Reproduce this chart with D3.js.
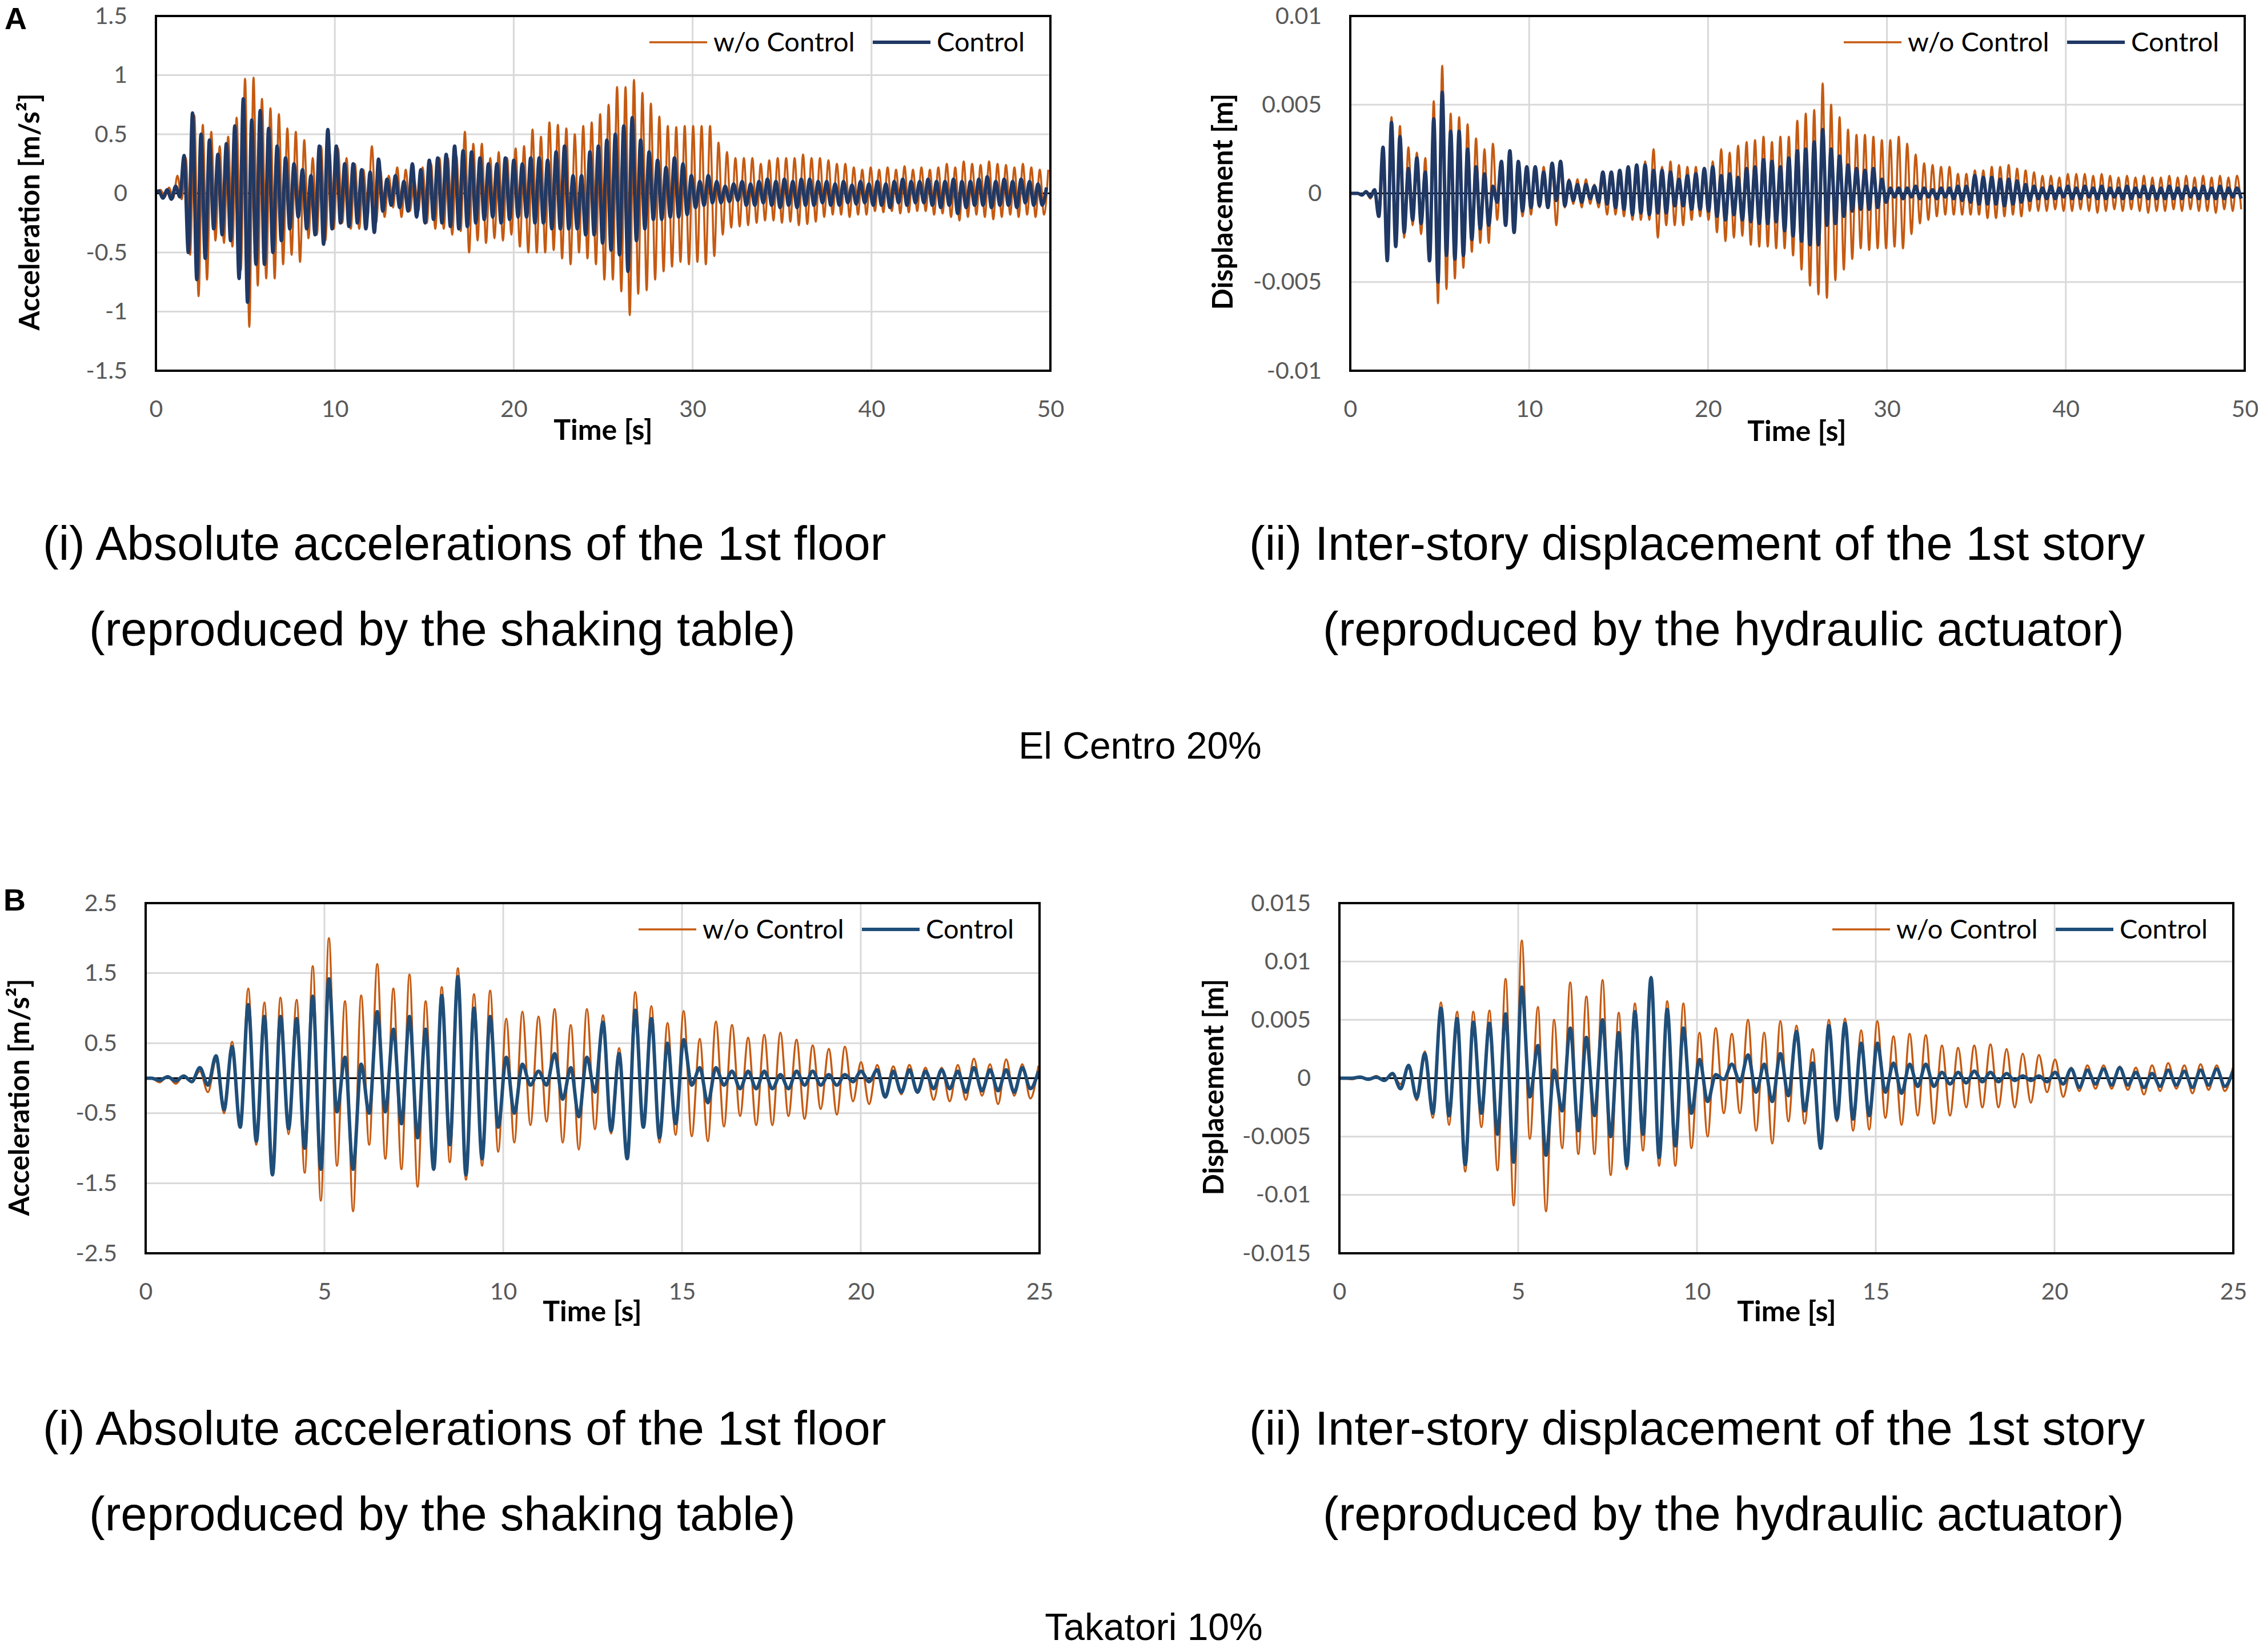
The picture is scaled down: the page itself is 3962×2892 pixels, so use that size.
<!DOCTYPE html>
<html>
<head>
<meta charset="utf-8">
<script src="https://cdn.jsdelivr.net/npm/d3@7"></script>
<style>
  body { margin: 0; background: #fff; }
  text { font-family: Lato, "Open Sans", sans-serif; }
  .cap { font-family: "Liberation Sans", Arial, sans-serif; }
</style>
</head>
<body>
<div id="chart"></div>
<script>
// ---- data: extremes (peak / trough) of each record, sampled on a half-period grid ----
// El Centro 20%, half period of response [s]
var elCentroStep = 0.2363;
// Takatori 10%
var takatoriAccStep = 0.2255;
var takatoriDispStep = 0.226;

var seriesNames = ["w/o Control", "Control"];

// (A-i) absolute acceleration of the 1st floor [m/s2]
var elAccWoStart = 0.021;
var elAccWo = [0,
  0.03,-0.03,0.05,-0.04,0.15,-0.05,0.3,-0.52,0.66,-0.87,
  0.58,-0.73,0.52,-0.4,0.4,-0.42,0.48,-0.45,0.64,-0.65,
  0.97,-1.13,0.98,-0.78,0.8,-0.72,0.72,-0.72,0.67,-0.6,
  0.55,-0.52,0.52,-0.58,0.45,-0.38,0.3,-0.35,0.4,-0.4,
  0.35,-0.3,0.38,-0.25,0.3,-0.3,0.25,-0.3,0.2,-0.2,
  0.4,-0.25,0.2,-0.2,0.15,-0.12,0.22,-0.2,0.2,-0.15,
  0.12,-0.15,0.22,-0.25,0.25,-0.3,0.3,-0.3,0.3,-0.35,
  0.32,-0.32,0.52,-0.5,0.42,-0.4,0.42,-0.42,0.3,-0.38,
  0.35,-0.4,0.3,-0.35,0.38,-0.45,0.4,-0.5,0.54,-0.5,
  0.48,-0.5,0.6,-0.48,0.58,-0.55,0.55,-0.6,0.5,-0.5,
  0.57,-0.55,0.6,-0.6,0.67,-0.73,0.75,-0.73,0.9,-0.83,
  0.9,-1.03,0.96,-0.85,0.85,-0.82,0.76,-0.73,0.65,-0.66,
  0.57,-0.62,0.56,-0.58,0.57,-0.6,0.57,-0.58,0.57,-0.6,
  0.57,-0.53,0.43,-0.35,0.35,-0.29,0.3,-0.28,0.3,-0.27,
  0.3,-0.25,0.25,-0.23,0.28,-0.23,0.3,-0.25,0.3,-0.24,
  0.3,-0.27,0.33,-0.26,0.3,-0.24,0.3,-0.2,0.28,-0.18,
  0.25,-0.18,0.25,-0.2,0.22,-0.18,0.2,-0.18,0.22,-0.15,
  0.2,-0.16,0.22,-0.15,0.2,-0.17,0.23,-0.16,0.2,-0.15,
  0.22,-0.15,0.2,-0.18,0.22,-0.17,0.25,-0.2,0.22,-0.23,
  0.27,-0.2,0.25,-0.18,0.24,-0.2,0.27,-0.22,0.25,-0.2,
  0.24,-0.18,0.22,-0.2,0.25,-0.18,0.22,-0.2,0.2,-0.18,
  0.2];
var elAccCtrlStart = -0.079;
var elAccCtrl = [0,
  0.02,-0.04,0.03,-0.05,0.06,-0.03,0.32,-0.5,0.68,-0.73,
  0.5,-0.55,0.45,-0.3,0.33,-0.35,0.42,-0.4,0.57,-0.72,
  0.8,-0.92,0.62,-0.6,0.7,-0.6,0.55,-0.5,0.4,-0.4,
  0.3,-0.3,0.25,-0.2,0.2,-0.3,0.15,-0.35,0.4,-0.43,
  0.54,-0.3,0.4,-0.25,0.25,-0.28,0.25,-0.25,0.2,-0.3,
  0.18,-0.33,0.29,-0.15,0.12,-0.1,0.15,-0.12,0.1,-0.15,
  0.25,-0.2,0.2,-0.25,0.28,-0.22,0.3,-0.25,0.33,-0.28,
  0.4,-0.3,0.36,-0.28,0.35,-0.25,0.3,-0.22,0.25,-0.2,
  0.25,-0.25,0.3,-0.22,0.28,-0.2,0.25,-0.2,0.3,-0.25,
  0.3,-0.25,0.28,-0.3,0.35,-0.3,0.4,-0.3,0.15,-0.3,
  0.15,-0.35,0.35,-0.35,0.4,-0.42,0.45,-0.48,0.5,-0.52,
  0.57,-0.66,0.64,-0.4,0.45,-0.3,0.35,-0.22,0.28,-0.22,
  0.22,-0.2,0.3,-0.2,0.25,-0.18,0.15,-0.12,0.1,-0.1,
  0.15,-0.08,0.1,-0.08,0.06,-0.07,0.08,-0.06,0.1,-0.1,
  0.08,-0.1,0.1,-0.08,0.12,-0.1,0.1,-0.12,0.12,-0.1,
  0.1,-0.12,0.12,-0.1,0.12,-0.1,0.1,-0.08,0.1,-0.1,
  0.08,-0.1,0.1,-0.08,0.07,-0.09,0.1,-0.08,0.08,-0.1,
  0.1,-0.1,0.08,-0.12,0.1,-0.08,0.12,-0.1,0.1,-0.08,
  0.1,-0.08,0.12,-0.1,0.1,-0.12,0.1,-0.1,0.12,-0.17,
  0.1,-0.12,0.1,-0.1,0.12,-0.1,0.14,-0.12,0.1,-0.1,
  0.12,-0.1,0.1,-0.12,0.12,-0.08,0.1,-0.1,0.08,-0.1,
  0.05];

// (A-ii) inter-story displacement of the 1st story [m]
var elDispStart = -0.058;
var elDispWo = [0,0,
  0,-0.0001,0.0001,-0.0003,0.0002,-0.0012,0.0025,-0.0038,0.0043,-0.003,
  0.0038,-0.0025,0.0026,-0.0018,0.0023,-0.0023,0.002,-0.0038,0.0052,-0.0062,
  0.0072,-0.0054,0.0045,-0.0048,0.0043,-0.0042,0.0039,-0.0033,0.0031,-0.0028,
  0.0025,-0.0028,0.0028,-0.0015,0.0018,-0.0018,0.0015,-0.0012,0.0012,-0.0013,
  0.0015,-0.0012,0.0013,-0.0008,0.0015,-0.0008,0.0015,-0.0018,0.0018,-0.0008,
  0.0008,-0.0006,0.0008,-0.0008,0.0008,-0.0006,0.0005,-0.0008,0.0008,-0.0012,
  0.0012,-0.0012,0.001,-0.0013,0.0015,-0.0015,0.0015,-0.0015,0.0018,-0.0015,
  0.0025,-0.0025,0.0015,-0.0018,0.0018,-0.0018,0.0016,-0.0018,0.0015,-0.0015,
  0.0015,-0.0013,0.0012,-0.0015,0.0018,-0.0022,0.0025,-0.0027,0.0023,-0.0025,
  0.0027,-0.0024,0.0029,-0.0029,0.003,-0.003,0.0032,-0.003,0.0029,-0.0031,
  0.0032,-0.0031,0.0032,-0.0035,0.0041,-0.0043,0.0045,-0.0052,0.0047,-0.0057,
  0.0062,-0.0059,0.005,-0.0049,0.0043,-0.0043,0.0036,-0.0037,0.0033,-0.0031,
  0.0033,-0.0032,0.0032,-0.0031,0.003,-0.0031,0.003,-0.003,0.0032,-0.0031,
  0.0028,-0.0023,0.0022,-0.0017,0.0017,-0.0015,0.0016,-0.0013,0.0015,-0.0012,
  0.0015,-0.0012,0.0011,-0.0012,0.0011,-0.0012,0.0013,-0.0012,0.0013,-0.0014,
  0.0015,-0.0014,0.0015,-0.0013,0.0016,-0.0012,0.0014,-0.0013,0.0013,-0.001,
  0.0012,-0.001,0.001,-0.001,0.001,-0.0009,0.0009,-0.001,0.0011,-0.001,
  0.0011,-0.0009,0.0011,-0.001,0.001,-0.0011,0.0011,-0.001,0.001,-0.0009,
  0.0009,-0.001,0.001,-0.0009,0.0009,-0.001,0.001,-0.0011,0.0009,-0.001,
  0.0009,-0.001,0.001,-0.0009,0.0009,-0.001,0.001,-0.0009,0.0009,-0.001,
  0.001,-0.001,0.0009,-0.0011,0.001,-0.0009,0.0009,-0.001,0.001,-0.0009];
var elDispCtrl = [0,0,
  0,-0.0001,0.0001,-0.0002,0.0002,-0.0013,0.0026,-0.0038,0.004,-0.003,
  0.0032,-0.0022,0.0014,-0.0015,0.002,-0.0017,0.0012,-0.0038,0.0042,-0.005,
  0.0057,-0.0035,0.0035,-0.0037,0.0035,-0.0035,0.0025,-0.0026,0.0015,-0.002,
  0.0011,-0.0018,0.0004,-0.0005,0.0018,-0.0018,0.0024,-0.0022,0.0018,-0.001,
  0.0015,-0.0008,0.0015,-0.0007,0.0012,-0.0008,0.0017,-0.0004,0.0018,-0.0007,
  0.0007,-0.0004,0.0005,-0.0005,0.0005,-0.0003,0.0004,-0.0005,0.0012,-0.0006,
  0.0012,-0.0008,0.0013,-0.0009,0.0015,-0.0012,0.0016,-0.0011,0.0016,-0.0012,
  0.0013,-0.0011,0.0013,-0.0011,0.0012,-0.0007,0.0008,-0.0007,0.001,-0.0009,
  0.0011,-0.0009,0.0014,-0.001,0.0015,-0.0013,0.001,-0.0015,0.0011,-0.0012,
  0.0009,-0.0015,0.0014,-0.0016,0.0015,-0.0017,0.0019,-0.0017,0.0018,-0.0016,
  0.0015,-0.0021,0.002,-0.0024,0.0024,-0.0027,0.0025,-0.0029,0.0029,-0.0029,
  0.0036,-0.0018,0.0025,-0.0017,0.0021,-0.0013,0.0016,-0.001,0.0014,-0.0009,
  0.0013,-0.0009,0.0014,-0.0008,0.0008,-0.0005,0.0003,-0.0002,0.0003,-0.0003,
  0.0003,-0.0002,0.0004,-0.0003,0.0003,-0.0002,0.0002,-0.0003,0.0003,-0.0002,
  0.0003,-0.0003,0.0004,-0.0004,0.0004,-0.0005,0.001,-0.0006,0.0009,-0.0006,
  0.0009,-0.0006,0.0008,-0.0007,0.0008,-0.0006,0.0007,-0.0005,0.0005,-0.0004,
  0.0004,-0.0003,0.0003,-0.0003,0.0004,-0.0003,0.0003,-0.0002,0.0004,-0.0003,
  0.0003,-0.0003,0.0004,-0.0002,0.0003,-0.0003,0.0004,-0.0003,0.0003,-0.0002,
  0.0003,-0.0003,0.0004,-0.0003,0.0003,-0.0002,0.0004,-0.0003,0.0004,-0.0003,
  0.0003,-0.0003,0.0004,-0.0003,0.0003,-0.0003,0.0004,-0.0002,0.0003,-0.0003,
  0.0004,-0.0003,0.0003,-0.0003,0.0004,-0.0003,0.0003,-0.0002,0.0003,-0.0003];

// (B-i) absolute acceleration of the 1st floor [m/s2]
var tkAccStart = -0.062;
var tkAccWo = [0,
  0,-0.06,0.03,-0.08,0.04,-0.05,0.1,-0.2,0.25,-0.5,0.52,-0.7,
  1.28,-0.95,1.08,-1.35,1.15,-0.8,1.12,-1.35,1.6,-1.75,
  2.0,-1.25,1.1,-1.9,1.18,-0.95,1.63,-1.15,1.28,-1.3,
  1.48,-1.55,1.1,-1.25,1.3,-1.2,1.57,-1.45,1.2,-1.25,
  1.25,-1.05,0.85,-0.92,0.95,-0.67,0.88,-0.62,0.99,-0.92,
  0.76,-1.02,0.99,-0.73,0.9,-0.79,0.43,-1.15,1.23,-0.7,
  1.03,-0.92,0.79,-0.81,0.96,-0.83,0.56,-0.9,0.81,-0.69,
  0.76,-0.54,0.58,-0.67,0.62,-0.67,0.65,-0.54,0.55,-0.58,
  0.47,-0.44,0.42,-0.52,0.45,-0.33,0.23,-0.37,0.19,-0.25,
  0.17,-0.23,0.19,-0.21,0.15,-0.31,0.15,-0.33,0.19,-0.31,
  0.28,-0.25,0.2,-0.37,0.27,-0.25,0.2,-0.29,0.18];
var tkAccCtrl = [0,
  0,-0.03,0.02,-0.04,0.03,-0.05,0.15,-0.1,0.32,-0.45,0.45,-0.7,
  1.05,-0.9,0.88,-1.38,0.88,-0.72,0.85,-1.0,1.17,-1.3,
  1.42,-0.48,0.3,-1.3,0.2,-0.5,0.95,-0.48,0.7,-0.65,
  0.88,-0.85,0.7,-1.3,1.18,-0.95,1.45,-1.38,1.0,-1.15,
  0.88,-0.7,0.3,-0.5,0.2,-0.1,0.1,-0.1,0.35,-0.3,
  0.15,-0.55,0.3,-0.2,0.8,-0.75,0.35,-1.15,0.97,-0.7,
  0.85,-0.85,0.5,-0.65,0.55,-0.1,0.15,-0.35,0.15,-0.1,
  0.1,-0.15,0.1,-0.15,0.1,-0.15,0.05,-0.15,0.1,-0.1,
  0.1,-0.1,0.05,-0.1,0.05,-0.05,0.1,-0.05,0.12,-0.27,
  0.1,-0.2,0.12,-0.2,0.1,-0.15,0.12,-0.15,0.1,-0.2,
  0.15,-0.18,0.12,-0.18,0.12,-0.2,0.15,-0.15,0.1];

// (B-ii) inter-story displacement of the 1st story [m]
var tkDispStart = -0.098;
var tkDispWo = [0,
  0,-0.0001,0.0001,-0.0001,0.0002,-0.0002,0.0003,-0.0005,0.0011,-0.0019,0.0023,-0.0034,
  0.0065,-0.004,0.0057,-0.008,0.0057,-0.0042,0.0058,-0.0079,0.0085,-0.0109,
  0.0118,-0.0052,0.0061,-0.0114,0.005,-0.006,0.0082,-0.0065,0.007,-0.0065,
  0.0084,-0.0083,0.0056,-0.0078,0.0064,-0.0062,0.0087,-0.0075,0.0066,-0.0075,
  0.0064,-0.006,0.0039,-0.005,0.0043,-0.003,0.0038,-0.003,0.005,-0.0045,
  0.0039,-0.0056,0.0049,-0.0037,0.0045,-0.0039,0.0025,-0.0057,0.005,-0.0037,
  0.0051,-0.0045,0.0041,-0.0044,0.0049,-0.0034,0.0036,-0.004,0.0038,-0.0032,
  0.0037,-0.0039,0.0028,-0.0032,0.0026,-0.0025,0.0028,-0.0025,0.0029,-0.0025,
  0.0025,-0.0025,0.0021,-0.0021,0.002,-0.0012,0.0016,-0.0016,0.0009,-0.0011,
  0.0011,-0.0009,0.0011,-0.0009,0.001,-0.001,0.0009,-0.0014,0.0011,-0.0011,
  0.0013,-0.0009,0.0011,-0.0013,0.0012,-0.001,0.0011,-0.0011,0.0009];
var tkDispCtrl = [0,
  0,0,0.0001,-0.0001,0.0001,-0.0002,0.0004,-0.0009,0.0011,-0.0017,0.0021,-0.003,
  0.006,-0.0032,0.0051,-0.0074,0.0048,-0.003,0.0047,-0.0048,0.0055,-0.0072,
  0.0078,-0.0016,0.0028,-0.0066,0.0007,-0.0028,0.0043,-0.0045,0.0035,-0.0032,
  0.005,-0.005,0.0039,-0.0075,0.0057,-0.0048,0.0086,-0.0068,0.0059,-0.0058,
  0.0043,-0.003,0.0016,-0.002,0.0003,-0.0001,0.0012,-0.0003,0.002,-0.0012,
  0.0012,-0.002,0.0021,-0.0015,0.004,-0.0028,0.0013,-0.006,0.0045,-0.0035,
  0.0047,-0.0035,0.003,-0.0032,0.003,-0.0012,0.0013,-0.0013,0.0012,-0.0007,
  0.0012,-0.0007,0.0005,-0.0005,0.0005,-0.0004,0.0006,-0.0003,0.0005,-0.0003,
  0.0004,-0.0002,0.0002,-0.0002,0.0002,-0.0003,0.0005,-0.0005,0.0008,-0.0008,
  0.0007,-0.0005,0.0008,-0.0006,0.0009,-0.0006,0.0005,-0.0008,0.0004,-0.0007,
  0.0007,-0.0006,0.0006,-0.0008,0.0007,-0.0006,0.0008,-0.0007,0.0006];

// axes
var accTicksA = [-1.5, -1, -0.5, 0, 0.5, 1, 1.5];
var dispTicksA = [-0.01, -0.005, 0, 0.005, 0.01];
var accTicksB = [-2.5, -1.5, -0.5, 0.5, 1.5, 2.5];
var dispTicksB = [-0.015, -0.01, -0.005, 0, 0.005, 0.01, 0.015];
var timeTicksA = [0, 10, 20, 30, 40, 50];
var timeTicksB = [0, 5, 10, 15, 20, 25];

var captionAcc = ["(i) Absolute accelerations of the 1st floor", "(reproduced by the shaking table)"];
var captionDisp = ["(ii) Inter-story displacement of the 1st story", "(reproduced by the hydraulic actuator)"];
var records = ["El Centro 20%", "Takatori 10%"];

// ---- drawing ----
var W = 3962, H = 2892;
var ORANGE = "#C55A11";
var NAVY_A = "#203864";
var BLUE_B = "#1F4E79";

var svg = d3.select("#chart").append("svg")
  .attr("width", W).attr("height", H)
  .attr("viewBox", "0 0 " + W + " " + H);
svg.append("rect").attr("width", W).attr("height", H).attr("fill", "#fff");

function ToPoints(values, start, step) {
  return values.map(function(v, i) { return [start + i * step, v]; });
}

function FormatTick(d) {
  return String(+d.toFixed(4));
}

var panelId = 0;
function DrawPanel(p) {
  panelId++;
  var x = d3.scaleLinear().domain([0, p.xMax]).range([p.x0, p.x1]);
  var y = d3.scaleLinear().domain(p.yDomain).range([p.y1, p.y0]);
  var g = svg.append("g");

  var clipId = "clip" + panelId;
  svg.append("clipPath").attr("id", clipId).append("rect")
    .attr("x", p.x0).attr("y", p.y0).attr("width", p.x1 - p.x0).attr("height", p.y1 - p.y0);

  // grid
  var grid = g.append("g").attr("stroke", "#D9D9D9").attr("stroke-width", 3);
  grid.selectAll("line.h").data(p.yTicks).enter().append("line")
    .attr("x1", p.x0).attr("x2", p.x1)
    .attr("y1", function(d) { return y(d); }).attr("y2", function(d) { return y(d); });
  grid.selectAll("line.v").data(p.xTicks).enter().append("line")
    .attr("y1", p.y0).attr("y2", p.y1)
    .attr("x1", function(d) { return x(d); }).attr("x2", function(d) { return x(d); });

  // zero line
  g.append("line").attr("x1", p.x0).attr("x2", p.x1)
    .attr("y1", y(0)).attr("y2", y(0))
    .attr("stroke", "#000").attr("stroke-width", 3);

  // series
  var line = d3.line()
    .x(function(d) { return x(d[0]); })
    .y(function(d) { return y(d[1]); })
    .curve(d3.curveMonotoneX);
  var gs = g.append("g").attr("clip-path", "url(#" + clipId + ")");
  p.series.forEach(function(s) {
    gs.append("path")
      .datum(ToPoints(s.values, s.start, s.step))
      .attr("d", line)
      .attr("fill", "none")
      .attr("stroke", s.color)
      .attr("stroke-width", s.width)
      .attr("stroke-linejoin", "round");
  });

  // frame
  g.append("rect").attr("x", p.x0).attr("y", p.y0)
    .attr("width", p.x1 - p.x0).attr("height", p.y1 - p.y0)
    .attr("fill", "none").attr("stroke", "#000").attr("stroke-width", 4);

  // axes labels
  var ay = g.append("g").attr("transform", "translate(" + p.x0 + ",0)")
    .call(d3.axisLeft(y).tickValues(p.yTicks).tickFormat(FormatTick).tickSize(0).tickPadding(50));
  var ax = g.append("g").attr("transform", "translate(0," + p.y1 + ")")
    .call(d3.axisBottom(x).tickValues(p.xTicks).tickFormat(FormatTick).tickSize(0).tickPadding(52));
  [ay, ax].forEach(function(a) {
    a.select(".domain").remove();
    a.selectAll("text").attr("font-size", 41).attr("fill", "#595959")
      .attr("font-family", "Lato, 'Open Sans', sans-serif");
  });

  g.append("text")
    .attr("transform", "translate(" + p.yTitle[0] + "," + p.yTitle[1] + ") rotate(-90)")
    .attr("text-anchor", "middle").attr("dy", "0.35em")
    .attr("font-size", 49).attr("font-weight", "bold")
    .text(p.yLabel);
  g.append("text")
    .attr("x", p.xTitle[0]).attr("y", p.xTitle[1])
    .attr("text-anchor", "middle").attr("dy", "0.35em")
    .attr("font-size", 50).attr("font-weight", "bold")
    .text("Time [s]");

  // legend
  var ly = p.y0 + 46;
  var leg = g.append("g");
  var legendItems = [
    { name: seriesNames[0], color: p.series[0].color, width: p.series[0].width, x: p.x1 - 702 },
    { name: seriesNames[1], color: p.series[1].color, width: p.series[1].width, x: p.x1 - 311 }
  ];
  legendItems.forEach(function(it) {
    leg.append("line").attr("x1", it.x).attr("x2", it.x + 101)
      .attr("y1", ly).attr("y2", ly)
      .attr("stroke", it.color).attr("stroke-width", it.width);
    leg.append("text").attr("x", it.x + 112).attr("y", ly).attr("dy", "0.35em")
      .attr("font-size", 47).attr("fill", "#000").text(it.name);
  });
}

DrawPanel({
  x0: 273, x1: 1839, y0: 28, y1: 649, xMax: 50, yDomain: [-1.5, 1.5],
  xTicks: timeTicksA, yTicks: accTicksA,
  yLabel: "Acceleration [m/s²]", yTitle: [52, 371], xTitle: [1056, 752],
  series: [
    { values: elAccWo, start: elAccWoStart, step: elCentroStep, color: ORANGE, width: 3.5 },
    { values: elAccCtrl, start: elAccCtrlStart, step: elCentroStep, color: NAVY_A, width: 6 }
  ]
});
DrawPanel({
  x0: 2364, x1: 3930, y0: 28, y1: 649, xMax: 50, yDomain: [-0.01, 0.01],
  xTicks: timeTicksA, yTicks: dispTicksA,
  yLabel: "Displacement [m]", yTitle: [2141, 353], xTitle: [3146, 754],
  series: [
    { values: elDispWo, start: elDispStart, step: elCentroStep, color: ORANGE, width: 3.5 },
    { values: elDispCtrl, start: elDispStart, step: elCentroStep, color: NAVY_A, width: 6 }
  ]
});
DrawPanel({
  x0: 255, x1: 1820, y0: 1581, y1: 2194, xMax: 25, yDomain: [-2.5, 2.5],
  xTicks: timeTicksB, yTicks: accTicksB,
  yLabel: "Acceleration [m/s²]", yTitle: [34, 1921], xTitle: [1037, 2295],
  series: [
    { values: tkAccWo, start: tkAccStart, step: takatoriAccStep, color: ORANGE, width: 3.5 },
    { values: tkAccCtrl, start: tkAccStart, step: takatoriAccStep, color: BLUE_B, width: 6 }
  ]
});
DrawPanel({
  x0: 2345, x1: 3910, y0: 1581, y1: 2194, xMax: 25, yDomain: [-0.015, 0.015],
  xTicks: timeTicksB, yTicks: dispTicksB,
  yLabel: "Displacement [m]", yTitle: [2125, 1903], xTitle: [3128, 2295],
  series: [
    { values: tkDispWo, start: tkDispStart, step: takatoriDispStep, color: ORANGE, width: 3.5 },
    { values: tkDispCtrl, start: tkDispStart, step: takatoriDispStep, color: BLUE_B, width: 6 }
  ]
});

// panel letters
svg.append("text").attr("x", 8).attr("y", 51).attr("font-size", 54).attr("font-weight", "bold")
  .attr("class", "cap").text("A");
svg.append("text").attr("x", 6).attr("y", 1594).attr("font-size", 54).attr("font-weight", "bold")
  .attr("class", "cap").text("B");

// captions
function Caption(xs, ys, lines) {
  lines.forEach(function(t, i) {
    svg.append("text").attr("class", "cap").attr("x", xs[i]).attr("y", ys[i])
      .attr("font-size", 83).attr("fill", "#000").text(t);
  });
}
[0, 1549].forEach(function(off, r) {
  Caption([75, 156], [980 + off, 1130 + off], captionAcc);
  Caption([2187, 2316], [980 + off, 1130 + off], captionDisp);
  svg.append("text").attr("class", "cap")
    .attr("x", r === 0 ? 1996 : 2020).attr("y", r === 0 ? 1328 : 2871)
    .attr("text-anchor", "middle").attr("font-size", 66).text(records[r]);
});
</script>
</body>
</html>
